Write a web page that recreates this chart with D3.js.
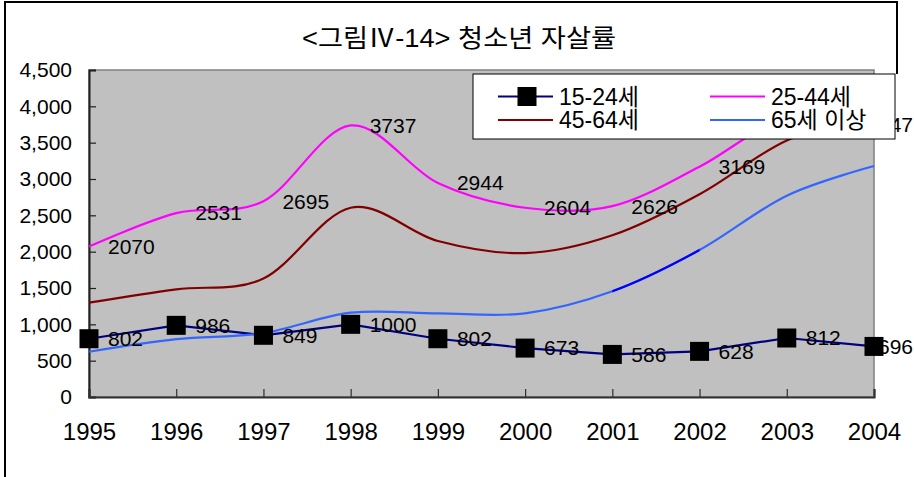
<!DOCTYPE html>
<html><head><meta charset="utf-8">
<script src="https://cdn.jsdelivr.net/npm/d3@7"></script>
<style>
html,body{margin:0;padding:0;background:#fff;}
svg{display:block;}
text{font-family:"Liberation Sans",Arial,"Noto Sans CJK KR",sans-serif;}
</style></head>
<body>
<script>
const title = "<그림Ⅳ-14> 청소년 자살률";
const years = [1995,1996,1997,1998,1999,2000,2001,2002,2003,2004];
const yTicks = [0,500,1000,1500,2000,2500,3000,3500,4000,4500];
const seriesNames = ["15-24세","25-44세","45-64세","65세 이상"];
const age15_24 = [802,986,849,1000,802,673,586,628,812,696];
const age25_44 = [2070,2531,2695,3737,2944,2604,2626,3169,3841,3747];
const age45_64 = [1298,1482,1630,2605,2147,1980,2225,2790,3530,3880];
const age65 = [623,796,880,1160,1150,1152,1455,2023,2770,3179];

const W=914,H=477;
const svg=d3.select("body").append("svg").attr("width",W).attr("height",H);
const x=d3.scaleLinear().domain([1995,2004]).range([89,874]);
const y=d3.scaleLinear().domain([0,4500]).range([397,70]);
const legendBox={x:473,y:74,w:422,h:65};

// frame
svg.append("line").attr("x1",5).attr("x2",898).attr("y1",2).attr("y2",2).attr("stroke","#000").attr("stroke-width",2);
svg.append("line").attr("x1",5).attr("x2",5).attr("y1",1).attr("y2",H).attr("stroke","#000").attr("stroke-width",2);
svg.append("line").attr("x1",897).attr("x2",897).attr("y1",1).attr("y2",74).attr("stroke","#000").attr("stroke-width",2);

// title
svg.append("text").attr("x",459).attr("y",47).attr("text-anchor","middle")
  .attr("font-size",25).attr("textLength",314).attr("lengthAdjust","spacingAndGlyphs")
  .style("font-family","'Liberation Sans Narrow','Liberation Sans','Noto Sans CJK KR',sans-serif")
  .text(title);

// plot area
svg.append("rect").attr("x",x(1995)).attr("y",y(4500)).attr("width",x(2004)-x(1995)).attr("height",y(0)-y(4500))
  .attr("fill","#c0c0c0").attr("stroke","#808080").attr("stroke-width",1.5);

// axes
const yAxis=svg.append("g").attr("transform",`translate(${x(1995)},0)`)
  .call(d3.axisLeft(y).tickValues(yTicks).tickSize(-7).tickPadding(17).tickFormat(d3.format(",")));
yAxis.selectAll("text").attr("font-size",21).attr("fill","#000");
yAxis.select(".domain").attr("stroke","#202020").attr("stroke-width",2);
yAxis.selectAll(".tick line").attr("stroke","#202020").attr("stroke-width",1.2);

const xAxis=svg.append("g").attr("transform",`translate(0,${y(0)})`)
  .call(d3.axisBottom(x).tickValues(years).tickSize(-8).tickPadding(26).tickFormat(d3.format("d")));
xAxis.selectAll("text").attr("font-size",24).attr("fill","#000");
xAxis.select(".domain").attr("stroke","#303030").attr("stroke-width",2.2);
xAxis.selectAll(".tick line").attr("stroke","#303030").attr("stroke-width",1.2);

// lines
const smooth=d3.line().x((d,i)=>x(years[i])).y(d=>y(d)).curve(d3.curveCardinal.tension(0));
const straight=d3.line().x((d,i)=>x(years[i])).y(d=>y(d));

svg.append("path").attr("d",straight(age15_24)).attr("fill","none").attr("stroke","#000080").attr("stroke-width",2.2);
svg.append("path").attr("d",smooth(age25_44)).attr("fill","none").attr("stroke","#ff00ff").attr("stroke-width",2.2);
svg.append("path").attr("d",smooth(age45_64)).attr("fill","none").attr("stroke","#800000").attr("stroke-width",2.2);
svg.append("path").attr("d",smooth(age65)).attr("fill","none").attr("stroke","#3366ff").attr("stroke-width",2.2);
svg.append("clipPath").attr("id","seg").append("rect")
  .attr("x",x(2001)).attr("y",0).attr("width",x(2002)-x(2001)).attr("height",H);
svg.append("path").attr("d",smooth(age65)).attr("fill","none").attr("stroke","#0000ff").attr("stroke-width",2.2).attr("clip-path","url(#seg)");

// labels (skip those fully hidden behind the legend)
function labels(vals){
  const g=svg.append("g");
  vals.forEach((v,i)=>{
    const t=g.append("text").attr("x",x(years[i])+19).attr("y",y(v)).attr("dy","0.35em")
      .attr("font-size",21).attr("fill","#000").text(v);
    const w=t.node().getComputedTextLength();
    let lx=x(years[i])+19;
    if(lx+w>913){lx=913-w;t.attr("x",lx);}
    const ty=y(v);
    if(lx>=legendBox.x && lx+w<=legendBox.x+legendBox.w && ty-9>=legendBox.y && ty+9<=legendBox.y+legendBox.h) t.remove();
  });
}
labels(age25_44);
labels(age15_24);

// markers
svg.append("g").selectAll("rect").data(age15_24).join("rect")
  .attr("x",(d,i)=>x(years[i])-9.5).attr("y",d=>y(d)-9.5).attr("width",19).attr("height",19).attr("fill","#000");

// legend
const lg=svg.append("g");
lg.append("rect").attr("x",legendBox.x).attr("y",legendBox.y).attr("width",legendBox.w).attr("height",legendBox.h).attr("fill","#fff").attr("stroke","#000").attr("stroke-width",1);
const colors=["#000080","#ff00ff","#800000","#3366ff"];
const pos=[[498,96.5],[710,96.5],[498,120],[710,120]];
seriesNames.forEach((n,i)=>{
  const [lx,ly]=pos[i];
  lg.append("line").attr("x1",lx).attr("x2",lx+55).attr("y1",ly).attr("y2",ly).attr("stroke",colors[i]).attr("stroke-width",2.2);
  if(i===0) lg.append("rect").attr("x",lx+29-9.5).attr("y",ly-9.5).attr("width",19).attr("height",19).attr("fill","#000");
  lg.append("text").attr("x",lx+61).attr("y",ly).attr("dy","0.36em").attr("font-size",23).attr("fill","#000").text(n);
});
</script>
</body></html>
